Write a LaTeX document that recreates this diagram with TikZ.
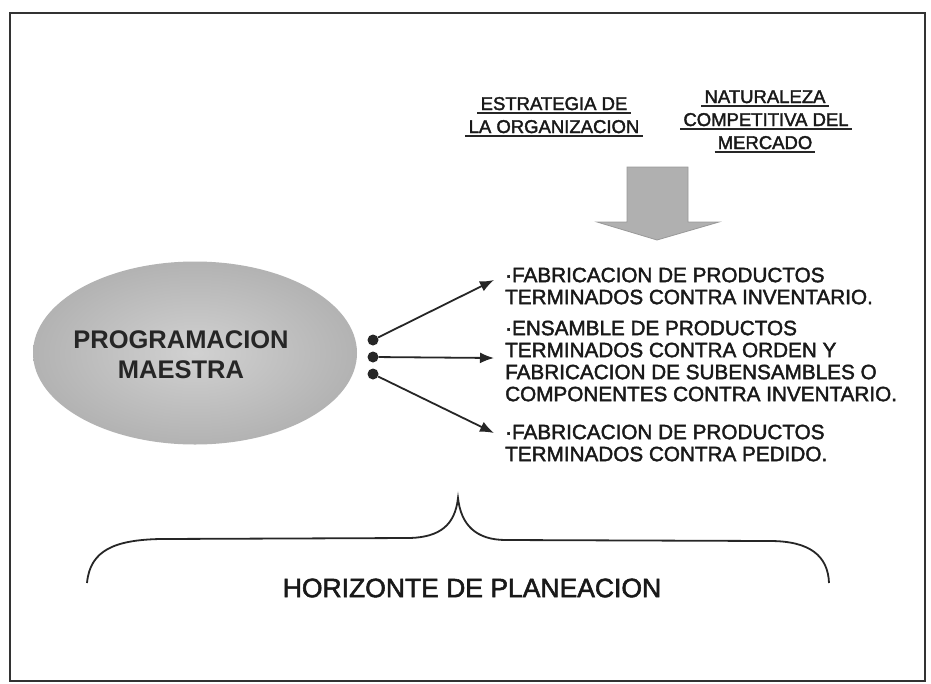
\documentclass[tikz,border=0pt]{standalone}
\usepackage{fontspec}
\setmainfont{Liberation Sans}
\newfontfamily\medfont{Liberation Sans}[FakeBold=2]
\usetikzlibrary{shapes.geometric,arrows.meta}
\begin{document}
\begin{tikzpicture}[x=1pt,y=-1pt,
  toplbl/.style={font=\medfont\fontsize{18.5}{22}\selectfont, text=black!90, inner xsep=3pt, inner ysep=0pt, anchor=base},
  uline/.style={line width=1.6pt, black!85},
  item/.style={font=\medfont\fontsize{20.7}{22}\selectfont, text=black!90, align=left, anchor=north west, inner sep=0pt},
  dotn/.style={circle, fill=black!85, minimum size=11pt, inner sep=0pt},
  conn/.style={line width=1.8pt, black!85, -{Latex[length=14pt,width=11pt]}},
  frame/.style={line width=1.6pt, black!80}]
\useasboundingbox (0,0) rectangle (931,683);
\fill[white] (0,0) rectangle (931,683);
% frame
\draw[frame] (10,13) rectangle (925,681);
% top labels
\node[toplbl] (e1) at (554,110) {ESTRATEGIA DE};
\node[toplbl] (e2) at (554,133) {LA ORGANIZACION};
\node[toplbl] (n1) at (765,103) {NATURALEZA};
\node[toplbl] (n2) at (766,126) {COMPETITIVA DEL};
\node[toplbl] (n3) at (765,149) {MERCADO};
\foreach \n in {e1,e2,n1,n2,n3}
  \draw[uline] ([yshift=-3pt]\n.base west) -- ([yshift=-3pt]\n.base east);
% big down arrow
\draw[fill=gray!62, draw=gray!80, line width=0.8pt]
  (627,167) -- (688,167) -- (688,222) -- (719,222) -- (657,240) -- (597,222) -- (627,222) -- cycle;
% ellipse
\node[ellipse, minimum width=324pt, minimum height=183pt, inner color=gray!36, outer color=gray!60] (pm) at (195,353) {};
\node[font=\bfseries\fontsize{25.5}{30}\selectfont, text=black!85, align=center] (pmt) at (181,355) {PROGRAMACION\\MAESTRA};
% dots
\node[dotn] (d1) at (373,340) {};
\node[dotn] (d2) at (373,357) {};
\node[dotn] (d3) at (373,374) {};
\coordinate (t1) at (494,280);
\coordinate (t2) at (494,358);
\coordinate (t3) at (494,433);
\draw[conn] (d1) -- (t1);
\draw[conn] (d2) -- (t2);
\draw[conn] (d3) -- (t3);
% items
\node[item] (i1) at (505,267.5) {·FABRICACION DE PRODUCTOS\\TERMINADOS CONTRA INVENTARIO.};
\node[item] (i2) at (505,320.5) {·ENSAMBLE DE PRODUCTOS\\TERMINADOS CONTRA ORDEN Y\\FABRICACION DE SUBENSAMBLES O\\COMPONENTES CONTRA INVENTARIO.};
\node[item] (i3) at (505,424.5) {·FABRICACION DE PRODUCTOS\\TERMINADOS CONTRA PEDIDO.};
% brace
\draw[line width=1.8pt, black!85]
  (87,583) .. controls (90,550) and (115,540) .. (160,539)
  -- (410,538) .. controls (440,537) and (455,525) .. (458,498)
  .. controls (461,525) and (476,540) .. (506,540)
  -- (770,541) .. controls (810,541) and (828,556) .. (829,583);
\node[font=\medfont\fontsize{26.5}{30}\selectfont, text=black!90] (hz) at (472,588) {HORIZONTE DE PLANEACION};
\end{tikzpicture}
\end{document}
